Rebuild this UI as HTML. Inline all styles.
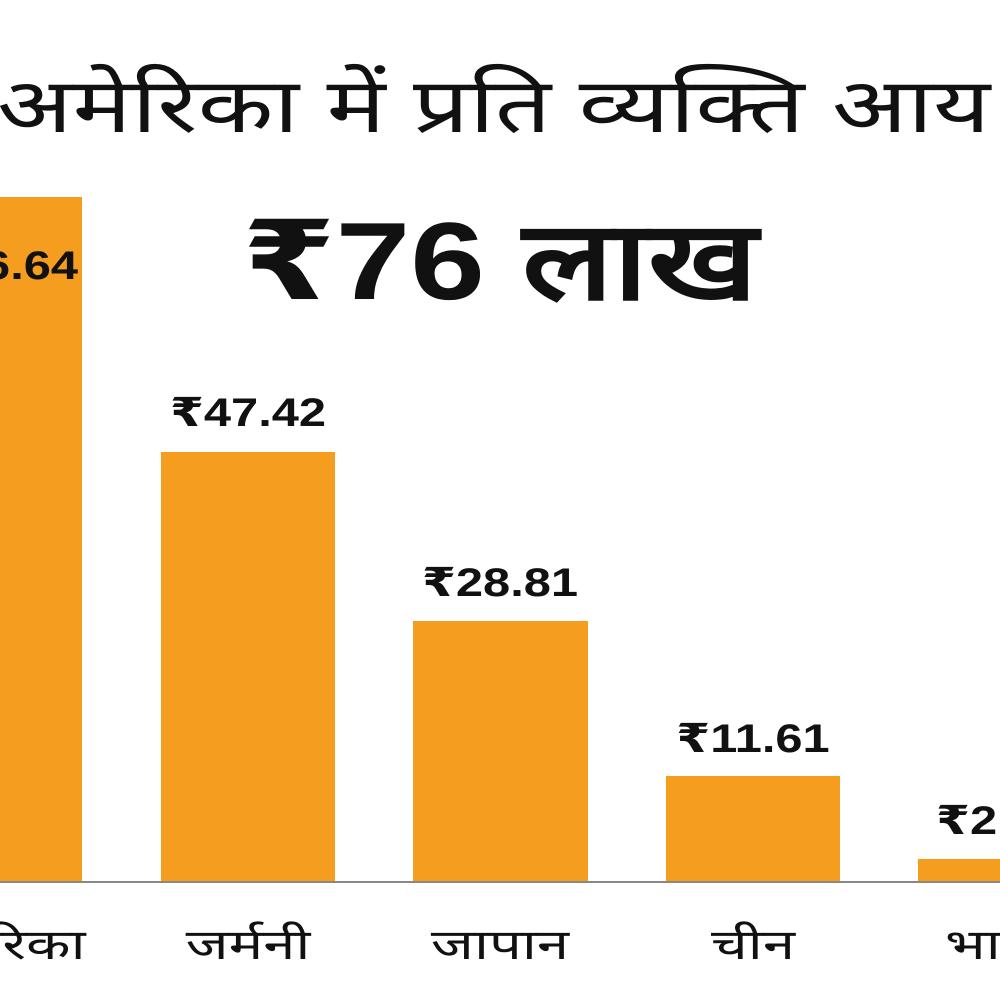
<!DOCTYPE html>
<html><head><meta charset="utf-8"><style>
body{margin:0;width:1000px;height:1000px;background:#fff;overflow:hidden;position:relative;font-family:"Liberation Sans","DejaVu Sans",sans-serif;}
.t{position:absolute;white-space:nowrap;color:#111;}
.bar{position:absolute;background:#f49d1f;}
.v{position:absolute;font-weight:bold;font-size:40px;color:#111;text-align:center;width:300px;white-space:nowrap;transform:scaleX(1.22);}
.c{position:absolute;font-size:42px;color:#111;text-align:center;width:300px;white-space:nowrap;top:915px;transform:scaleX(1.38);}
</style></head><body>
<div class="t" style="left:-3px;top:52px;font-size:76px;transform:scaleX(1.3);transform-origin:0 0;">अमेरिका में प्रति व्यक्ति आय</div>
<div class="t" style="left:0;width:1000px;text-align:center;top:182px;font-size:110px;font-weight:bold;transform:scaleX(1.22);">₹76 लाख</div>

<div class="bar" style="left:0;top:197px;width:82px;height:685px"></div>
<div class="bar" style="left:161px;top:452px;width:174px;height:430px"></div>
<div class="bar" style="left:413px;top:621px;width:175px;height:261px"></div>
<div class="bar" style="left:666px;top:776px;width:174px;height:106px"></div>
<div class="bar" style="left:918px;top:859px;width:82px;height:23px"></div>
<div style="position:absolute;left:0;top:881px;width:1000px;height:2px;background:#888"></div>

<div class="v" style="left:-150px;top:243px;">₹76.64</div>
<div class="v" style="left:98px;top:390px">₹47.42</div>
<div class="v" style="left:350px;top:560px">₹28.81</div>
<div class="v" style="left:603px;top:716px">₹11.61</div>
<div class="v" style="left:936px;top:798px;text-align:left;width:200px;transform-origin:0 0">₹2.5</div>

<div class="c" style="left:-153px">अमेरिका</div>
<div class="c" style="left:98px">जर्मनी</div>
<div class="c" style="left:350px">जापान</div>
<div class="c" style="left:603px">चीन</div>
<div class="c" style="left:945px;text-align:left;transform-origin:0 0">भारत</div>
</body></html>
